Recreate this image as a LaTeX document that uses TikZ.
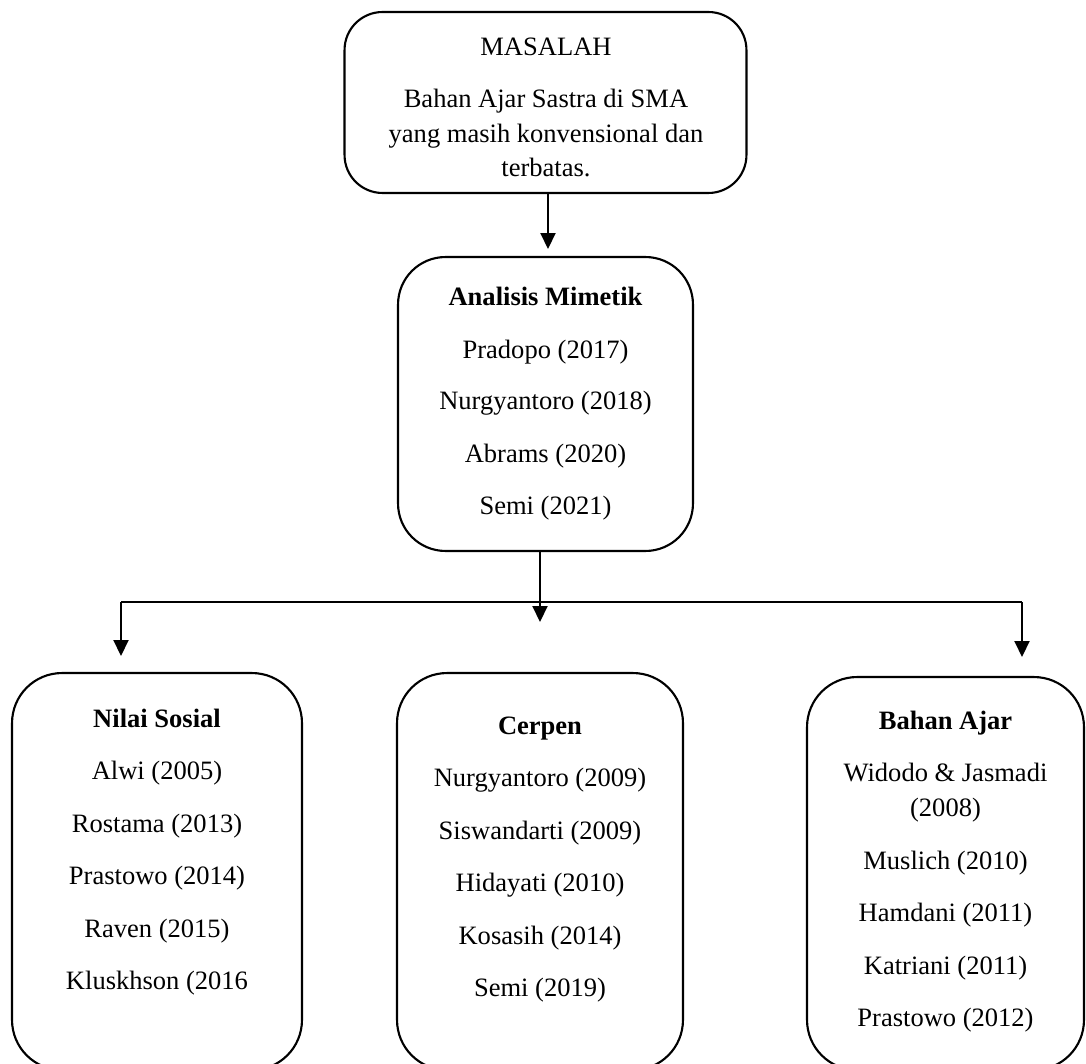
\documentclass[tikz,border=0pt]{standalone}
\usepackage{fontspec}
\setmainfont{Liberation Serif}
\usetikzlibrary{arrows.meta}
\tikzset{
  box/.style={draw, line width=1.2pt, rectangle, outer sep=0pt, inner sep=0pt},
  txt/.style={anchor=base, inner sep=0pt, font=\fontsize{15.1}{18}\selectfont},
  hd/.style={txt, font=\fontsize{15.1}{18}\selectfont\bfseries},
  arr/.style={line width=1.2pt, -{Triangle[length=0.32cm,width=0.3cm]}},
  thinl/.style={line width=0.6pt}
}
\begin{document}
\begin{tikzpicture}[x=0.02cm,y=-0.02cm]
\useasboundingbox (0,0) rectangle (1086,1064);
\clip (0,0) rectangle (1086,1064);
% boxes
\node[box, rounded corners=0.76cm, minimum width=8.04cm, minimum height=3.62cm] (masalah) at (545.5,102.5) {};
\node[box, rounded corners=0.95cm, minimum width=5.9cm, minimum height=5.88cm] (mimetik) at (545.5,404) {};
\node[box, rounded corners=1.0cm, minimum width=5.8cm, minimum height=7.94cm] (nilai) at (157,871.5) {};
\node[box, rounded corners=1.0cm, minimum width=5.72cm, minimum height=7.94cm] (cerpen) at (540,871.5) {};
\node[box, rounded corners=1.0cm, minimum width=5.54cm, minimum height=7.86cm] (bahan) at (945.5,873.5) {};
% texts: masalah
\node[txt] (m1) at (546,56) {MASALAH};
\node[txt] (m2) at (546,108) {Bahan Ajar Sastra di SMA};
\node[txt] (m3) at (546,143) {yang masih konvensional dan};
\node[txt] (m4) at (546,177) {terbatas.};
% mimetik
\node[hd]  (a0) at (545.5,306) {Analisis Mimetik};
\node[txt] (a1) at (545.5,358) {Pradopo (2017)};
\node[txt] (a2) at (545.5,410) {Nurgyantoro (2018)};
\node[txt] (a3) at (545.5,462) {Abrams (2020)};
\node[txt] (a4) at (545.5,514) {Semi (2021)};
% nilai
\node[hd]  (n0) at (157,727) {Nilai Sosial};
\node[txt] (n1) at (157,779.5) {Alwi (2005)};
\node[txt] (n2) at (157,832) {Rostama (2013)};
\node[txt] (n3) at (157,884.5) {Prastowo (2014)};
\node[txt] (n4) at (157,937) {Raven (2015)};
\node[txt] (n5) at (157,989.5) {Kluskhson (2016};
% cerpen
\node[hd]  (c0) at (540,734) {Cerpen};
\node[txt] (c1) at (540,786.5) {Nurgyantoro (2009)};
\node[txt] (c2) at (540,839) {Siswandarti (2009)};
\node[txt] (c3) at (540,891.5) {Hidayati (2010)};
\node[txt] (c4) at (540,944) {Kosasih (2014)};
\node[txt] (c5) at (540,996.5) {Semi (2019)};
% bahan
\node[hd]  (b0) at (945.5,729) {Bahan Ajar};
\node[txt] (b1) at (945.5,781.5) {Widodo \& Jasmadi};
\node[txt] (b1b) at (945.5,816.5) {(2008)};
\node[txt] (b2) at (945.5,869) {Muslich (2010)};
\node[txt] (b3) at (945.5,921.5) {Hamdani (2011)};
\node[txt] (b4) at (945.5,974) {Katriani (2011)};
\node[txt] (b5) at (945.5,1026.5) {Prastowo (2012)};
% connectors
\coordinate (tA) at (548,249);
\draw[arr] (tA |- masalah.south) -- (tA);
\coordinate (jm) at (540,602);
\coordinate (k1) at (540,570);
\coordinate (tM) at (540,622);
\coordinate (jl) at (121,602);
\coordinate (jr) at (1022,602);
\coordinate (tL) at (121,656);
\coordinate (tR) at (1022,657);
\draw[thinl] (k1 |- mimetik.south) -- (k1);
\draw[arr] (k1) -- (tM);
\draw[thinl] (jl) -- (jr);
\draw[arr] (jl) -- (tL);
\draw[arr] (jr) -- (tR);
\end{tikzpicture}
\end{document}
